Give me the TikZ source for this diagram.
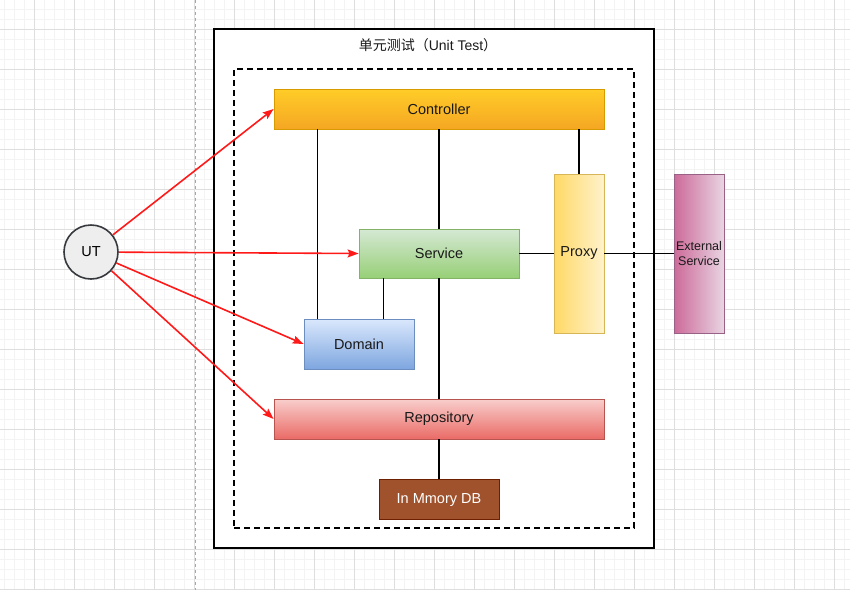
\documentclass[tikz,border=0pt]{standalone}
\usepackage{fontspec}
\setmainfont{Liberation Sans}
\newfontfamily\cjk{Noto Sans CJK SC}
\usepackage{xcolor}
\usetikzlibrary{positioning,arrows.meta}

\definecolor{ctrltop}{HTML}{FFCD28}
\definecolor{ctrlbot}{HTML}{F5A623}
\definecolor{ctrlline}{HTML}{D79B00}
\definecolor{svctop}{HTML}{D5E8D4}
\definecolor{svcbot}{HTML}{97D077}
\definecolor{svcline}{HTML}{82B366}
\definecolor{prxleft}{HTML}{FFD966}
\definecolor{prxright}{HTML}{FFF2CC}
\definecolor{prxline}{HTML}{D6B656}
\definecolor{extleft}{HTML}{CD6A99}
\definecolor{extright}{HTML}{E8D5E2}
\definecolor{extline}{HTML}{996185}
\definecolor{domtop}{HTML}{DAE8FC}
\definecolor{dombot}{HTML}{7EA6E0}
\definecolor{domline}{HTML}{6C8EBF}
\definecolor{repotop}{HTML}{F8CECC}
\definecolor{repobot}{HTML}{EA6B66}
\definecolor{repoline}{HTML}{B85450}
\definecolor{dbfill}{HTML}{A0522D}
\definecolor{dbline}{HTML}{6D1F00}
\definecolor{utfill}{HTML}{EEEEEE}
\definecolor{utline}{HTML}{36393D}
\definecolor{minorgrid}{HTML}{F3F3F3}
\definecolor{majorgrid}{HTML}{DEDEDE}
\definecolor{arrowred}{HTML}{FF1A1A}

\tikzset{
  layer/.style={rectangle,draw,line width=0.8pt,inner sep=0pt,text=black!90,
    font=\fontsize{14.5}{17}\selectfont},
  link/.style={line width=1.6pt,black},
  test/.style={line width=1.6pt,arrowred,-{Stealth[length=11pt,width=8pt,inset=2pt]}}
}

\begin{document}
\begin{tikzpicture}[x=1pt,y=-1pt]
  \useasboundingbox (0,0) rectangle (850,590);
  % grid
  \foreach \x in {4,14,...,844} \draw[minorgrid,line width=0.7pt] (\x,0) -- (\x,590);
  \foreach \y in {9,19,...,589} \draw[minorgrid,line width=0.7pt] (0,\y) -- (850,\y);
  \foreach \x in {34,74,...,834} \draw[majorgrid,line width=0.8pt] (\x,0) -- (\x,590);
  \foreach \y in {29,69,...,589} \draw[majorgrid,line width=0.8pt] (0,\y) -- (850,\y);
  \draw[black!35,dashed,line width=0.7pt] (195,0) -- (195,590);

  % frames
  \node[draw,fill=white,line width=1.8pt,minimum width=440pt,minimum height=519pt] (ut frame) at (434,288.5) {};
  \node[draw,dash pattern=on 6pt off 4pt,line width=1.8pt,minimum width=400pt,minimum height=459pt] (scope) at (434,298.5) {};
  \node[font=\fontsize{14}{17}\selectfont,text=black!90] (title) at (428,45) {{\cjk 单元测试（}Unit Test{\cjk ）}};

  % layers
  \node[layer,top color=ctrltop,bottom color=ctrlbot,draw=ctrlline,minimum width=330pt,minimum height=40pt] (ctrl) at (439,109) {Controller};
  \node[layer,top color=svctop,bottom color=svcbot,draw=svcline,minimum width=160pt,minimum height=49pt] (svc) at (439,253.5) {Service};
  \node[layer,left color=prxleft,right color=prxright,draw=prxline,minimum width=50pt,minimum height=159pt] (proxy) at (579,253.5) {Proxy};
  \node[layer,left color=extleft,right color=extright,draw=extline,minimum width=50pt,minimum height=159pt,align=center,
        font=\fontsize{12.5}{15}\selectfont] (ext) at (699,253.5) {External\\Service};
  \node[layer,top color=domtop,bottom color=dombot,draw=domline,minimum width=110pt,minimum height=50pt] (dom) at (359,344) {Domain};
  \node[layer,top color=repotop,bottom color=repobot,draw=repoline,minimum width=330pt,minimum height=40pt] (repo) at (439,419) {Repository};
  \node[layer,fill=dbfill,draw=dbline,text=white,minimum width=120pt,minimum height=40pt,below=40pt of repo] (db) {In Mmory DB};
  \node[circle,draw=utline,fill=utfill,line width=1.6pt,minimum size=54pt,inner sep=0pt,
        font=\fontsize{14.5}{17}\selectfont] (ut) at (91,252) {UT};

  % dependencies
  \draw[link] ([xshift=14pt]dom.north west) -- ([xshift=14pt]dom.north west |- ctrl.south);
  \draw[link] (ctrl.south) -- (svc.north);
  \draw[link] (proxy.north) -- (proxy.north |- ctrl.south);
  \draw[link] ([xshift=25pt]svc.south west) -- ([xshift=25pt]svc.south west |- dom.north);
  \draw[link] (svc.south) -- (repo.north);
  \draw[link] (svc.east) -- (proxy.west);
  \draw[link] (proxy.east) -- (ext.west);
  \draw[link] (repo.south) -- (db.north);

  % tests
  \draw[test] (ut) -- (ctrl.west);
  \draw[test] (ut) -- (svc.west);
  \draw[test] (ut) -- (dom.west);
  \draw[test] (ut) -- (repo.west);
\end{tikzpicture}
\end{document}
